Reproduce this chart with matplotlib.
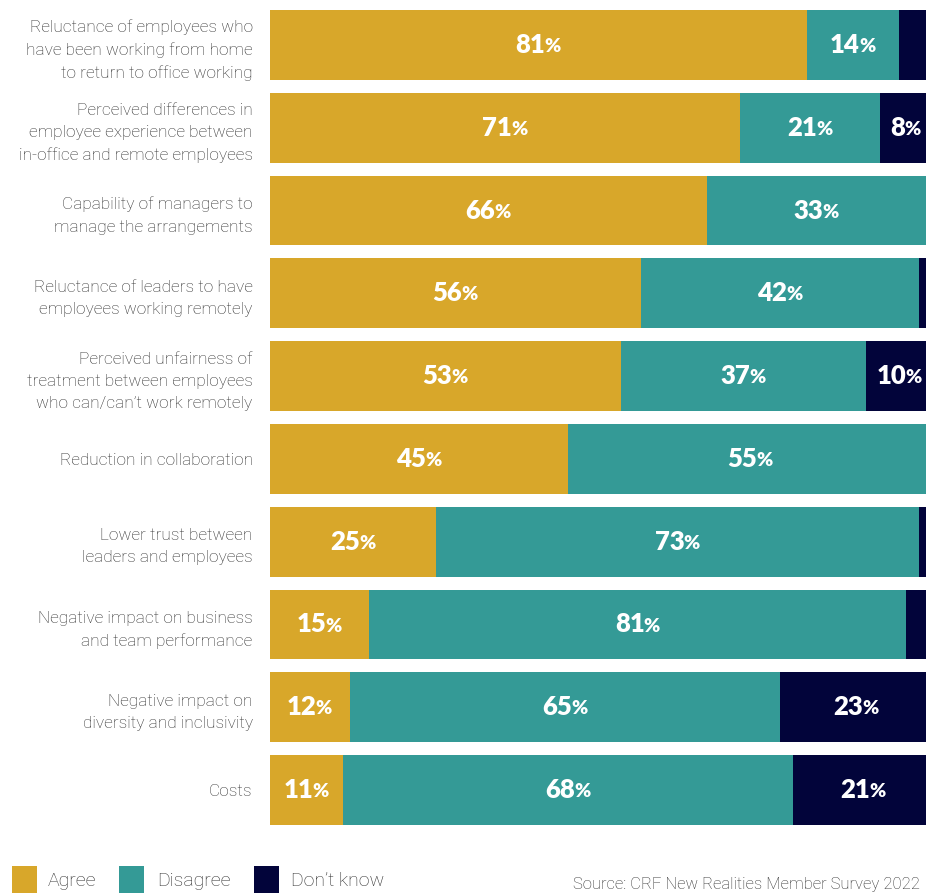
import matplotlib.pyplot as plt
from matplotlib.patches import Rectangle
from matplotlib.transforms import offset_copy

categories = [
    "Reluctance of employees who\nhave been working from home\nto return to office working",
    "Perceived differences in\nemployee experience between\nin-office and remote employees",
    "Capability of managers to\nmanage the arrangements",
    "Reluctance of leaders to have\nemployees working remotely",
    "Perceived unfairness of\ntreatment between employees\nwho can/can\u2019t work remotely",
    "Reduction in collaboration",
    "Lower trust between\nleaders and employees",
    "Negative impact on business\nand team performance",
    "Negative impact on\ndiversity and inclusivity",
    "Costs",
]
agree = [81, 71, 66, 56, 53, 45, 25, 15, 12, 11]
disagree = [14, 21, 33, 42, 37, 55, 73, 81, 65, 68]
dont_know = [5, 8, 1, 2, 10, 0, 2, 4, 23, 21]
series_names = ["Agree", "Disagree", "Don\u2019t know"]
colors = ["#D8A72A", "#349A96", "#02043A"]
source = "Source: CRF New Realities Member Survey 2022"

LABEL_MIN = 8  # segments narrower than this stay unlabelled
TEXT_FONT = ["Roboto", "DejaVu Sans"]
TEXT_COLOR = "#2e2e2e"

plt.rcParams["font.family"] = ["Lato", "DejaVu Sans"]

fig = plt.figure(figsize=(9.26, 8.93), dpi=100)
W, H = 926, 893
ax = fig.add_axes([270 / W, 1 - 825 / H, 1 - 270 / W, (825 - 10) / H])

y = list(range(len(categories)))
left = [0] * len(categories)
value_texts = []
for vals, color in zip([agree, disagree, dont_know], colors):
    ax.barh(y, vals, left=left, height=70 / 83, color=color, linewidth=0)
    for i, (v, l) in enumerate(zip(vals, left)):
        if v >= LABEL_MIN:
            value_texts.append((l + v / 2, i, v))
    left = [a + b for a, b in zip(left, vals)]

ax.set_xlim(0, 99)
ax.set_ylim(len(categories) - 1 + 35 / 83, -35 / 83)
ax.set_yticks(y)
ax.set_yticklabels(categories, fontsize=12.4, color=TEXT_COLOR, family=TEXT_FONT,
                   fontweight="light", linespacing=1.6)
ax.tick_params(axis="y", length=0, pad=12.5)
ax.set_xticks([])
for s in ax.spines.values():
    s.set_visible(False)

# value labels: bold number with a smaller percent sign, centred together
renderer = fig.canvas.get_renderer()
for xc, yc, v in value_texts:
    num = ax.text(xc, yc, str(v), color="white", fontsize=18.5, fontweight="heavy",
                  ha="right", va="center")
    pct = ax.text(xc, yc, "%", color="white", fontsize=14, fontweight="heavy",
                  ha="left", va="center")
    wn = num.get_window_extent(renderer).width
    wp = pct.get_window_extent(renderer).width
    shift = (wn - wp) / 2 * 72 / fig.dpi
    num.set_transform(offset_copy(ax.transData, fig=fig, x=shift, y=0, units="points"))
    pct.set_transform(offset_copy(ax.transData, fig=fig, x=shift - 0.5, y=-1.2,
                                  units="points"))

# legend along the bottom edge
legend_x = [(12, 48), (119, 157), (254, 291)]
for (px, tx), name, color in zip(legend_x, series_names, colors):
    fig.patches.append(Rectangle((px / W, 0), 25 / W, 27 / H, transform=fig.transFigure,
                                 color=color, linewidth=0))
    fig.text(tx / W, 1 - 881 / H, name, fontsize=14, color=TEXT_COLOR, family=TEXT_FONT,
             fontweight="light", va="center", ha="left")

fig.text(573 / W, 1 - 885 / H, source, fontsize=12, color=TEXT_COLOR, family=TEXT_FONT,
         fontweight="light", va="center", ha="left")

fig.savefig("out.png", dpi=100)
